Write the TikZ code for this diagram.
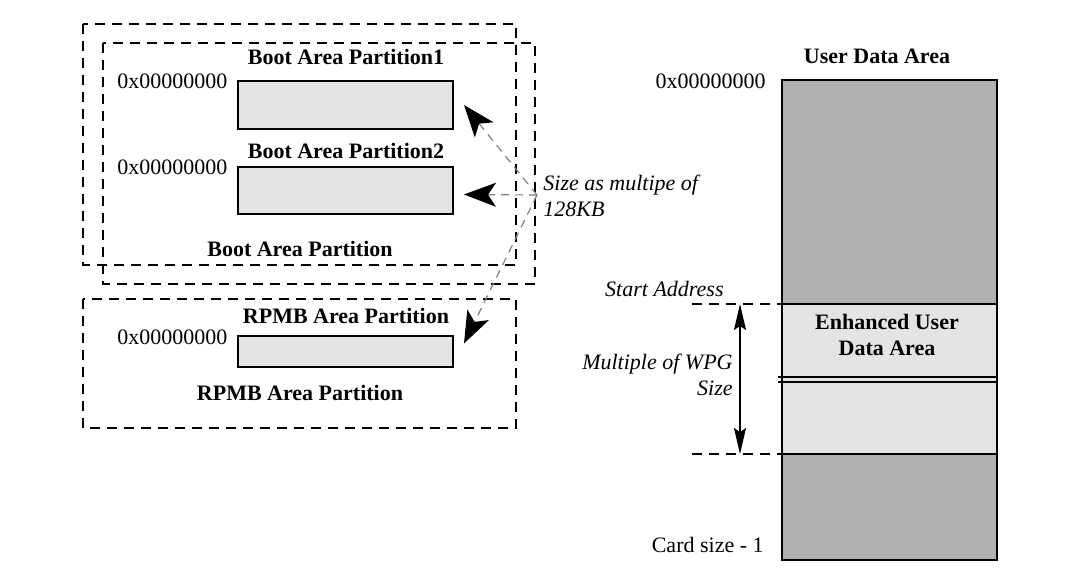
\documentclass[tikz,border=0pt]{standalone}
\usepackage{fontspec}
\setmainfont{Liberation Serif}
\usetikzlibrary{arrows.meta}

\definecolor{darkarea}{HTML}{B0B0B0}
\definecolor{lightarea}{HTML}{E4E4E4}

\tikzset{
  every node/.style={inner sep=0pt, font=\fontsize{11}{13}\selectfont},
  areabox/.style={draw=black, line width=1pt, dash pattern=on 5pt off 3.5pt},
  partbox/.style={draw=black, line width=1pt, fill=lightarea, minimum width=107.5pt, anchor=north west},
  title/.style={font=\fontsize{11}{13}\selectfont\bfseries},
  note/.style={font=\fontsize{11}{13}\selectfont\itshape},
  sizearrow/.style={gray, line width=0.6pt, dash pattern=on 4pt off 3pt,
    arrows={-Stealth[color=black, length=16pt, width=12pt, inset=4pt]}},
  guide/.style={line width=0.6pt, dash pattern=on 5pt off 3.5pt}
}

\begin{document}
\begin{tikzpicture}[x=0.5pt,y=-0.5pt]
\useasboundingbox (0,0) rectangle (1089,573);

% boot area partition frames
\draw[areabox] (83,24) rectangle (516,265);
\draw[areabox] (103,43) rectangle (535,284);

% boot partition 1
\node[title] (t1) at (346,57) {Boot Area Partition1};
\node[anchor=west] (a1) at (117,81) {0x00000000};
\node[partbox, minimum height=24pt] (p1) at (237,80) {};

% boot partition 2
\node[title] (t2) at (346,151) {Boot Area Partition2};
\node[anchor=west] (a2) at (117,167) {0x00000000};
\node[partbox, minimum height=23.5pt] (p2) at (237,166) {};

\node[title] (boot) at (300,249) {Boot Area Partition};

% rpmb partition
\draw[areabox] (83,299) rectangle (516,428);
\node[title] (t3) at (346,316) {RPMB Area Partition};
\node[anchor=west] (a3) at (117,337) {0x00000000};
\node[partbox, minimum height=15.5pt] (rpmb) at (237,335) {};
\node[title] (rp) at (300,393) {RPMB Area Partition};

% size note and arrows
\node[note, anchor=west, align=left] (size) at (543,196) {Size as multipe of\\128KB};
\coordinate (sz) at (537,195);
\draw[sizearrow] (sz) -- ([xshift=5pt]p1.east);
\draw[sizearrow] (sz) -- ([xshift=5pt,yshift=-2pt]p2.east);
\draw[sizearrow] (sz) -- ([xshift=5pt,yshift=4pt]rpmb.east);

% user data area
\node[title] (user) at (877,56) {User Data Area};
\node[anchor=east] (a4) at (766,81) {0x00000000};
\fill[darkarea] (782,80) rectangle (997,304);
\fill[lightarea] (782,304) rectangle (997,454);
\fill[darkarea] (782,454) rectangle (997,560);
\draw[line width=0.8pt] (782,304) -- (997,304);
\draw[line width=0.8pt] (778,377) -- (997,377);
\draw[line width=0.8pt] (778,382) -- (997,382);
\draw[line width=0.8pt] (782,454) -- (997,454);
\draw[line width=1pt] (782,80) rectangle (997,560);
\node[title, align=center] (enh) at (887,335) {Enhanced User\\Data Area};

% start address and size
\coordinate (sa) at (740,304);
\coordinate (ea) at (740,454);
\draw[guide] (692,304) -- (782,304);
\draw[guide] (692,454) -- (782,454);
\draw[line width=0.8pt, arrows={Stealth[length=13pt, width=6pt, inset=2pt]-Stealth[length=13pt, width=6pt, inset=2pt]}] (sa) -- (ea);
\node[note, anchor=east] (start) at (724,289) {Start Address};
\node[note, anchor=east, align=right] (wpg) at (733,375) {Multiple of WPG\\Size};
\node[anchor=east] (card) at (764,545) {Card size - 1};
\end{tikzpicture}
\end{document}
